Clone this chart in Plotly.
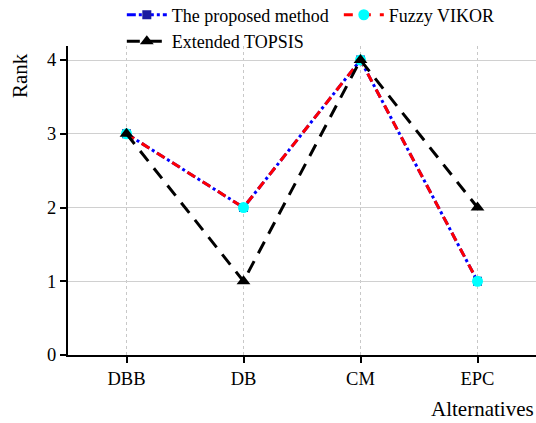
import plotly.graph_objects as go

categories = ["DBB", "DB", "CM", "EPC"]
proposed = [3, 2, 4, 1]
fuzzy_vikor = [3, 2, 4, 1]
extended_topsis = [3, 1, 4, 2]
y_ticks = [0, 1, 2, 3, 4]

font = "Liberation Serif, Times New Roman, serif"

fig = go.Figure()
fig.add_trace(go.Scatter(x=categories, y=proposed, name="The proposed method",
                         mode="lines+markers",
                         line=dict(color="blue", width=3, dash="dashdot"),
                         marker=dict(symbol="square", size=9, color="#1a1aa0")))
fig.add_trace(go.Scatter(x=categories, y=fuzzy_vikor, name="Fuzzy VIKOR",
                         mode="lines+markers",
                         line=dict(color="red", width=3, dash="dash"),
                         marker=dict(symbol="circle", size=11, color="cyan")))
fig.add_trace(go.Scatter(x=categories, y=extended_topsis, name="Extended TOPSIS",
                         mode="lines+markers",
                         line=dict(color="black", width=3, dash="13px,9px"),
                         marker=dict(symbol="triangle-up", size=12, color="black")))

fig.update_layout(
    width=536, height=423,
    margin=dict(l=68, r=0, t=46, b=68, autoexpand=False),
    paper_bgcolor="white", plot_bgcolor="white",
    font=dict(family=font, size=18, color="black"),
    showlegend=True,
    legend=dict(orientation="h", x=0.115, y=1.16, xanchor="left", yanchor="top",
                font=dict(family=font, size=18), tracegroupgap=0,
                itemwidth=40, entrywidth=162, bgcolor="rgba(0,0,0,0)"),
    xaxis=dict(range=[-0.5, 3.5], showline=True, linecolor="black", linewidth=2,
               ticks="outside", ticklen=6, tickwidth=2, tickcolor="black",
               showgrid=True, gridcolor="#c8c8c8", griddash="dot", gridwidth=1,
               tickfont=dict(family=font, size=18.5)),
    yaxis=dict(range=[0, 4.19], tickvals=y_ticks, showline=True, linecolor="black",
               linewidth=2, ticks="outside", ticklen=6, tickwidth=2, tickcolor="black",
               showgrid=True, gridcolor="#d0d0d0", gridwidth=1, zeroline=False,
               tickfont=dict(family=font, size=18.5)),
)

fig.add_annotation(text="Alternatives", xref="paper", yref="paper", x=1.0, y=-0.13,
                   xanchor="right", yanchor="top", showarrow=False,
                   font=dict(family=font, size=21))
fig.add_annotation(text="Rank", xref="paper", yref="paper", x=-0.1026, y=0.985,
                   xanchor="center", yanchor="top", textangle=-90, showarrow=False,
                   font=dict(family=font, size=21))

fig.write_html("out.html", config={"displayModeBar": False},
               post_script="document.body.style.margin='0';document.body.style.overflow='hidden';")
